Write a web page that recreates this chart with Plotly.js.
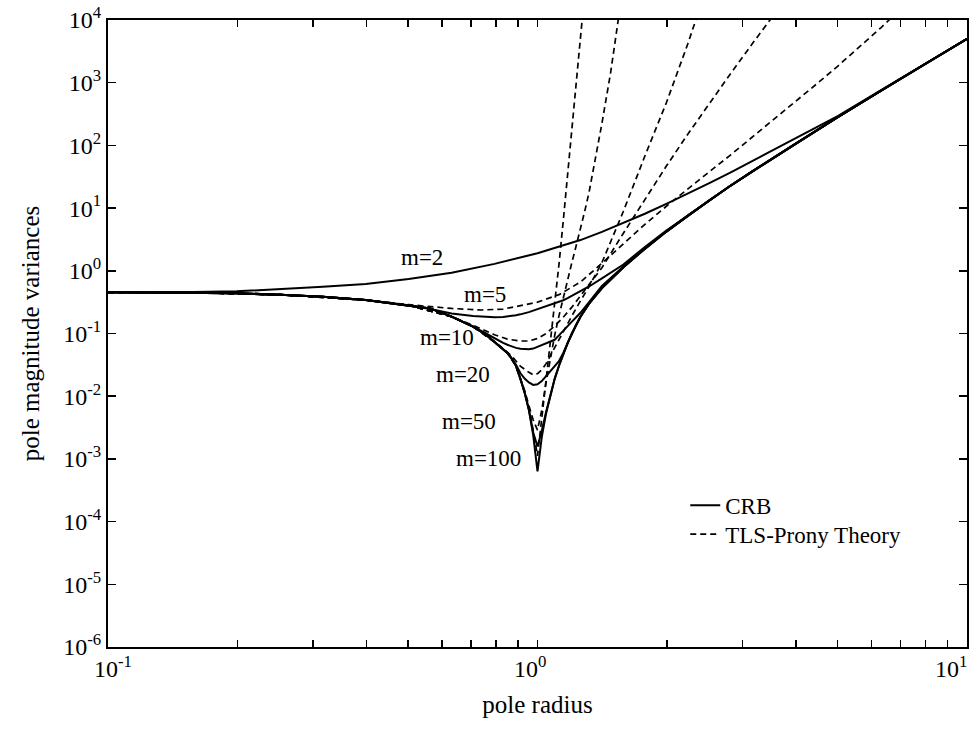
<!DOCTYPE html>
<html>
<head>
<meta charset="utf-8">
<script src="https://cdn.plot.ly/plotly-3.0.1.min.js"></script>
<style>
html,body{margin:0;padding:0;background:#fff;}
#chart{width:979px;height:738px;}
</style>
</head>
<body>
<div id="chart"></div>
<script>
// ---------- data (pole radius r, variance v) ----------
// shared radius grid for the CRB curves m = 5 ... 100
const rEnv = [0.1, 0.1259, 0.1585, 0.1995, 0.2512, 0.3162, 0.3981, 0.5012, 0.5623, 0.631,
  0.7079, 0.7586, 0.7943, 0.8318, 0.8511, 0.871, 0.8913, 0.912, 0.9333, 0.955,
  0.9772, 1.0, 1.0233, 1.0471, 1.0715, 1.0965, 1.122, 1.1482, 1.1749, 1.2023,
  1.2303, 1.2589, 1.3183, 1.4125, 1.5849, 1.7783, 1.9953, 2.2387, 2.5119, 2.8184,
  3.1623, 3.9811, 5.0119, 6.3096, 7.9433, 10];

const crb100 = [0.454, 0.452, 0.448, 0.437, 0.416, 0.386, 0.342, 0.282, 0.251, 0.186,
  0.129, 0.0955, 0.0741, 0.0575, 0.049, 0.0398, 0.0302, 0.0191, 0.0115, 0.00603,
  0.0024, 0.000631, 0.00224, 0.00532, 0.0106, 0.0189, 0.0306, 0.0474, 0.0702, 0.100,
  0.138, 0.185, 0.299, 0.531, 1.135, 2.26, 4.22, 7.59, 13.3, 22.9,
  38.5, 106, 285, 750, 1950, 5010];

const crb50 = [0.454, 0.452, 0.448, 0.437, 0.416, 0.386, 0.342, 0.282, 0.251, 0.186,
  0.129, 0.0955, 0.0741, 0.0575, 0.049, 0.0398, 0.0302, 0.0191, 0.0115, 0.00603,
  0.00263, 0.00158, 0.00282, 0.00562, 0.0106, 0.0189, 0.0306, 0.0474, 0.0702, 0.100,
  0.138, 0.185, 0.299, 0.531, 1.135, 2.26, 4.22, 7.59, 13.3, 22.9,
  38.5, 106, 285, 750, 1950, 5010];

const crb20 = [0.454, 0.452, 0.448, 0.437, 0.416, 0.386, 0.342, 0.282, 0.251, 0.186,
  0.129, 0.0955, 0.0741, 0.0575, 0.049, 0.0398, 0.0316, 0.0234, 0.0191, 0.0166,
  0.0151, 0.0155, 0.0174, 0.0209, 0.0251, 0.0295, 0.0363, 0.049, 0.0708, 0.100,
  0.138, 0.185, 0.299, 0.531, 1.135, 2.26, 4.22, 7.59, 13.3, 22.9,
  38.5, 106, 285, 750, 1950, 5010];

const crb10 = [0.454, 0.452, 0.448, 0.437, 0.416, 0.386, 0.342, 0.282, 0.251, 0.186,
  0.129, 0.1, 0.0832, 0.0708, 0.0661, 0.0617, 0.0589, 0.0569, 0.056, 0.0562,
  0.0575, 0.0617, 0.0646, 0.0692, 0.0741, 0.0794, 0.0933, 0.112, 0.132, 0.155,
  0.182, 0.214, 0.316, 0.575, 1.17, 2.26, 4.22, 7.59, 13.3, 22.9,
  38.5, 106, 285, 750, 1950, 5010];

const crb5 = [0.454, 0.452, 0.448, 0.437, 0.416, 0.386, 0.342, 0.282, 0.245, 0.209,
  0.191, 0.182, 0.181, 0.184, 0.187, 0.191, 0.195, 0.202, 0.209, 0.219,
  0.232, 0.245, 0.257, 0.269, 0.285, 0.302, 0.320, 0.339, 0.367, 0.398,
  0.432, 0.468, 0.562, 0.759, 1.26, 2.40, 4.37, 7.59, 13.3, 22.9,
  38.5, 106, 285, 750, 1950, 5010];

const rM2 = [0.1, 0.1259, 0.1585, 0.1995, 0.2512, 0.3162, 0.3981, 0.5012, 0.631, 0.7943,
  1.0, 1.122, 1.2589, 1.4125, 1.5849, 1.7783, 1.9953, 2.2387, 2.5119, 2.8184,
  3.1623, 3.5481, 3.9811, 4.4668, 5.0119, 6.3096, 7.9433, 10];
const crb2 = [0.454, 0.455, 0.461, 0.471, 0.507, 0.558, 0.617, 0.741, 0.933, 1.29,
  1.91, 2.40, 3.09, 4.17, 5.75, 8.13, 11.7, 17.0, 25.1, 37.2,
  56.2, 85.1, 126, 191, 295, 759, 1950, 5010];

// TLS-Prony theory curves
const rTls5 = [0.1, 0.1585, 0.2512, 0.3162, 0.3981, 0.5012, 0.631, 0.7413, 0.8318, 0.8913,
  1.0, 1.122, 1.2589, 1.4125, 1.5849, 1.7783, 1.9953, 2.2387, 2.5119, 2.8184,
  3.1623, 3.5481, 3.9811, 4.4668, 5.0119, 5.6234, 6.3096, 6.6069];
const tls5 = [0.454, 0.448, 0.416, 0.386, 0.342, 0.288, 0.251, 0.237, 0.245, 0.269,
  0.316, 0.417, 0.661, 1.32, 2.69, 5.50, 10.7, 20.4, 38.0, 70.8,
  135, 257, 490, 955, 1860, 3720, 7590, 10200];

const rTls10 = [0.1, 0.1585, 0.2512, 0.3981, 0.5012, 0.631, 0.7079, 0.7586, 0.7943, 0.8511,
  0.912, 0.955, 1.0, 1.0471, 1.0965, 1.1482, 1.2023, 1.2589, 1.3183, 1.4125,
  1.5849, 1.7783, 1.9953, 2.2387, 2.5119, 2.8184, 3.1623, 3.5481];
const tls10 = [0.454, 0.448, 0.416, 0.342, 0.282, 0.186, 0.135, 0.110, 0.0955, 0.0813,
  0.0759, 0.0759, 0.0832, 0.1, 0.132, 0.182, 0.263, 0.398, 0.603, 1.12,
  3.98, 13.8, 46.8, 151, 468, 1410, 4170, 12000];

const rTls20 = [0.1, 0.1585, 0.2512, 0.3981, 0.5012, 0.631, 0.7079, 0.7943, 0.8318, 0.871,
  0.912, 0.955, 0.9772, 1.0, 1.0233, 1.0471, 1.0715, 1.0965, 1.1482, 1.2023,
  1.2589, 1.3183, 1.4125, 1.5849, 1.7783, 1.9953, 2.2387, 2.3442];
const tls20 = [0.454, 0.448, 0.416, 0.342, 0.282, 0.186, 0.129, 0.0741, 0.0575, 0.0437,
  0.0302, 0.024, 0.0219, 0.0229, 0.0263, 0.0331, 0.0447, 0.0603, 0.107, 0.191,
  0.331, 0.562, 1.35, 8.91, 67.6, 479, 4170, 10700];

const rTls50 = [0.1, 0.1585, 0.2512, 0.3981, 0.5012, 0.631, 0.7079, 0.7943, 0.8511, 0.8913,
  0.912, 0.9333, 0.955, 0.9772, 1.0, 1.0233, 1.0471, 1.0715, 1.0965, 1.122,
  1.1482, 1.1749, 1.2023, 1.2303, 1.2589, 1.2882, 1.3183, 1.349, 1.3804, 1.4125,
  1.4454, 1.4791, 1.5136, 1.5488];
const tls50 = [0.454, 0.448, 0.416, 0.342, 0.282, 0.186, 0.129, 0.0741, 0.049, 0.0302,
  0.0191, 0.0123, 0.00708, 0.00417, 0.00288, 0.00603, 0.0166, 0.0417, 0.0933, 0.191,
  0.380, 0.724, 1.35, 2.51, 4.57, 8.91, 17.8, 39.8, 93.3, 224,
  562, 1410, 4170, 12600];

const rTls100 = [0.1, 0.1585, 0.2512, 0.3981, 0.5012, 0.631, 0.7079, 0.7943, 0.8511, 0.8913,
  0.912, 0.9333, 0.955, 0.9772, 1.0, 1.0233, 1.0471, 1.0715, 1.0965, 1.122,
  1.1482, 1.1749, 1.2023, 1.2303, 1.2589, 1.2735];
const tls100 = [0.454, 0.448, 0.416, 0.342, 0.282, 0.186, 0.129, 0.0741, 0.049, 0.0302,
  0.0191, 0.0115, 0.0066, 0.00282, 0.00112, 0.00447, 0.0178, 0.0708, 0.282, 1.26,
  6.31, 31.6, 166, 891, 5010, 12000];

// curve labels (text, radius, variance)
const curveLabels = ['m=2', 'm=5', 'm=10', 'm=20', 'm=50', 'm=100'];
const labelR = [0.539, 0.755, 0.614, 0.670, 0.692, 0.767];
const labelV = [1.66, 0.419, 0.0879, 0.0218, 0.00388, 0.00103];

// axis ticks
const xTickVals = [0.1, 0.2, 0.3, 0.4, 0.5, 0.6, 0.7, 0.8, 0.9, 1, 2, 3, 4, 5, 6, 7, 8, 9, 10];
const xLabelVals = [0.1, 1, 10];
const xLabelText = ['10<sup>-1</sup>', '10<sup>0</sup>', '10<sup>1</sup>'];
const yTickVals = [1e-6, 1e-5, 1e-4, 1e-3, 1e-2, 1e-1, 1, 10, 100, 1000, 10000];
const yTickText = ['10<sup>-6</sup>', '10<sup>-5</sup>', '10<sup>-4</sup>', '10<sup>-3</sup>',
  '10<sup>-2</sup>', '10<sup>-1</sup>', '10<sup>0</sup>', '10<sup>1</sup>', '10<sup>2</sup>',
  '10<sup>3</sup>', '10<sup>4</sup>'];

// ---------- traces ----------
const solid = {color: '#000', width: 2};
const dashed = {color: '#000', width: 1.7, dash: '6px,4px'};

const traces = [
  {x: rM2, y: crb2, mode: 'lines', line: solid, name: 'CRB', showlegend: true, legend: 'legend'},
  {x: rEnv, y: crb5, mode: 'lines', line: solid, showlegend: false},
  {x: rEnv, y: crb10, mode: 'lines', line: solid, showlegend: false},
  {x: rEnv, y: crb20, mode: 'lines', line: solid, showlegend: false},
  {x: rEnv, y: crb50, mode: 'lines', line: solid, showlegend: false},
  {x: rEnv, y: crb100, mode: 'lines', line: solid, showlegend: false},
  {x: rTls5, y: tls5, mode: 'lines', line: dashed, name: 'TLS-Prony Theory', showlegend: true, legend: 'legend2'},
  {x: rTls10, y: tls10, mode: 'lines', line: dashed, showlegend: false},
  {x: rTls20, y: tls20, mode: 'lines', line: dashed, showlegend: false},
  {x: rTls50, y: tls50, mode: 'lines', line: dashed, showlegend: false},
  {x: rTls100, y: tls100, mode: 'lines', line: dashed, showlegend: false}
];

const serif = '"Liberation Serif", "Times New Roman", Times, serif';

const annotations = [];
curveLabels.forEach((t, i) => {
  annotations.push({
    text: t, x: Math.log10(labelR[i]), y: Math.log10(labelV[i]), xref: 'x', yref: 'y',
    showarrow: false, xanchor: 'center', yanchor: 'middle',
    font: {family: serif, size: 23, color: '#000'}
  });
});
const xLabelAnchor = ['center', 'center', 'right'];
const xLabelShift = [5, -8, 2];
xLabelVals.forEach((v, i) => {
  annotations.push({
    text: xLabelText[i], x: Math.log10(v), y: 0, xref: 'x', yref: 'paper',
    showarrow: false, xanchor: xLabelAnchor[i], yanchor: 'top', yshift: -3, xshift: xLabelShift[i],
    font: {family: serif, size: 24, color: '#000'}
  });
});

const legendCommon = {
  xanchor: 'left', yanchor: 'middle', bgcolor: 'rgba(0,0,0,0)', borderwidth: 0,
  font: {family: serif, size: 23, color: '#000'}, itemwidth: 30
};

const layout = {
  width: 979, height: 738,
  margin: {l: 108, r: 12, t: 20, b: 91, pad: 0},
  paper_bgcolor: '#fff', plot_bgcolor: '#fff',
  font: {family: serif, size: 24, color: '#000'},
  showlegend: true,
  hovermode: false,
  legend: Object.assign({x: 0.672, y: 0.226}, legendCommon),
  legend2: Object.assign({x: 0.672, y: 0.180}, legendCommon),
  xaxis: {
    type: 'log', range: [-1, 1], autorange: false,
    showline: true, linecolor: '#000', linewidth: 2, mirror: 'ticks',
    ticks: 'inside', ticklen: 7, tickwidth: 1.5, tickcolor: '#000',
    tickmode: 'array', tickvals: xTickVals, showticklabels: false,
    showgrid: false, zeroline: false,
    title: {text: 'pole radius', font: {family: serif, size: 25, color: '#000'}, standoff: 47}
  },
  yaxis: {
    type: 'log', range: [-6, 4], autorange: false,
    showline: true, linecolor: '#000', linewidth: 2, mirror: 'ticks',
    ticks: 'inside', ticklen: 8, tickwidth: 1.5, tickcolor: '#000',
    tickmode: 'array', tickvals: yTickVals, ticktext: yTickText,
    tickfont: {family: serif, size: 24, color: '#000'},
    showgrid: false, zeroline: false,
    title: {text: 'pole magnitude variances', font: {family: serif, size: 25, color: '#000'}, standoff: 16}
  },
  annotations: annotations
};

Plotly.newPlot('chart', traces, layout, {staticPlot: true, displayModeBar: false});
</script>
</body>
</html>
